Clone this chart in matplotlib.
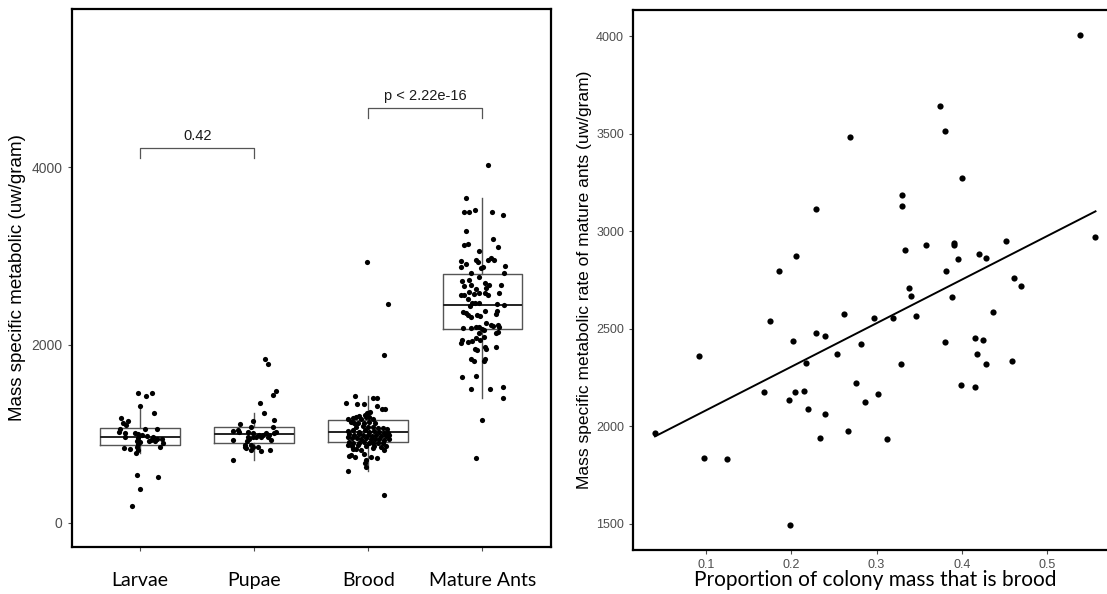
import numpy as np
import matplotlib
matplotlib.use("Agg")
import matplotlib.pyplot as plt

# ---- left panel: jittered points (offset from category centre, value) ----
categories = ["Larvae", "Pupae", "Brood", "Mature Ants"]

larvae_dx = [-0.015, 0.053, 0.102, 0.0, 0.12, -0.167, -0.108, -0.152, -0.126, -0.173,
             -0.184, -0.137, 0.044, 0.146, -0.044, -0.02, 0.015, 0.064, 0.108, -0.132,
             0.146, -0.015, -0.029, 0.0, 0.073, 0.096, 0.126, 0.19, 0.196, -0.015,
             -0.029, 0.175, -0.14, -0.088, -0.038, -0.02, -0.029, 0.152, -0.003, -0.07]
larvae_y = [1463, 1429, 1455, 1309, 1230, 1174, 1140, 1118, 1095, 1058,
            1024, 1013, 1050, 1050, 1005, 998, 987, 975, 968, 968,
            938, 949, 923, 912, 923, 930, 919, 938, 900, 885,
            855, 855, 837, 825, 788, 818, 537, 510, 379, 188]

pupae_dx = [0.097, 0.123, 0.19, 0.164, 0.05, 0.085, -0.014, 0.17, -0.123, -0.032,
            -0.14, 0.161, -0.184, -0.137, -0.058, -0.014, 0.176, 0.19, 0.044, 0.073,
            0.103, 0.126, -0.058, -0.014, 0.015, 0.059, 0.117, -0.19, -0.044, -0.067,
            -0.079, -0.029, -0.014, 0.146, -0.084, -0.073, -0.029, 0.03, 0.059, 0.138,
            -0.184]
pupae_y = [1838, 1785, 1478, 1437, 1343, 1238, 1148, 1155, 1110, 1073,
           1043, 1073, 1028, 1024, 1024, 1013, 1013, 1024, 987, 987,
           1005, 987, 960, 960, 960, 960, 960, 930, 938, 923,
           874, 874, 855, 930, 848, 837, 818, 848, 810, 818,
           705]

brood_dx = [-0.114, 0.044, 0.076, -0.196, -0.102, -0.041, 0.073, 0.120, 0.149, 0.015,
            -0.015, -0.032, -0.079, -0.181, -0.137, -0.108, -0.064, -0.020, 0.009, 0.038,
            -0.152, -0.123, -0.093, -0.035, 0.009, 0.061, -0.108, -0.050, -0.006, 0.038,
            0.082, 0.126, 0.161, -0.175, -0.137, -0.085, -0.026, 0.009, 0.053, 0.097,
            0.140, 0.170, -0.167, -0.123, -0.079, -0.044, -0.006, 0.032, 0.067, 0.111,
            0.155, 0.184, -0.181, -0.143, -0.102, -0.064, -0.020, 0.023, 0.061, 0.097,
            0.140, 0.178, -0.167, -0.132, -0.079, -0.035, 0.009, 0.044, 0.082, 0.126,
            -0.181, -0.143, -0.093, -0.020, 0.053, 0.111, 0.155, -0.137, -0.108, -0.064,
            0.038, 0.140, -0.172, -0.152, -0.114, -0.035, 0.023, 0.076, -0.020, -0.026,
            -0.020, -0.181, 0.140, 0.170, 0.135, -0.009]
brood_y = [1429, 1407, 1399, 1350, 1332, 1335, 1317, 1279, 1279, 1249,
           1230, 1212, 1200, 1163, 1174, 1185, 1163, 1185, 1193, 1163,
           1137, 1118, 1125, 1125, 1137, 1118, 1080, 1088, 1080, 1080,
           1062, 1062, 1050, 1035, 1043, 1024, 1043, 1024, 1035, 1024,
           1013, 1005, 998, 987, 998, 987, 987, 975, 987, 975,
           975, 987, 960, 949, 949, 938, 949, 938, 938, 938,
           930, 938, 912, 900, 900, 912, 893, 900, 893, 900,
           874, 863, 874, 863, 863, 855, 863, 825, 825, 818,
           837, 818, 750, 762, 743, 773, 743, 724, 705, 668,
           630, 585, 312, 2464, 1890, 2929]

mature_dx = [0.047, -0.141, -0.161, -0.114, -0.067, 0.082, 0.178, -0.141, 0.091, -0.161,
             -0.129, 0.137, -0.035, -0.187, -0.146, -0.187, -0.059, -0.041, 0.044, 0.073,
             0.099, -0.012, 0.006, 0.193, -0.100, -0.035, 0.187, -0.176, -0.117, 0.023,
             0.058, -0.161, -0.103, 0.035, 0.158, -0.059,
             -0.190, -0.161, -0.117, -0.030, 0.023, 0.146, 0.044, -0.073, -0.123, -0.088,
             -0.111, -0.065, -0.030, 0.131, 0.190, -0.170, -0.146, -0.123, -0.103, -0.044,
             -0.021, 0.023, 0.131, 0.117, -0.170, -0.100, -0.059, -0.030, 0.0, 0.035,
             0.073, 0.088, 0.140, 0.146, 0.015, -0.035, 0.117, 0.140, 0.015, -0.176,
             -0.123, -0.088, -0.059, -0.024, -0.190, -0.065, -0.044, 0.023, 0.035, 0.117,
             -0.103, -0.073, 0.015, 0.023, -0.182, -0.059, -0.103, 0.067, 0.181, 0.184,
             -0.006, -0.059]
mature_y = [4024, 3657, 3492, 3495, 3522, 3499, 3462, 3285, 3195, 3120,
            3139, 3098, 3057, 2940, 2910, 2880, 2952, 2933, 2952, 2982,
            2955, 2869, 2880, 2892, 2813, 2768, 2806, 2715, 2730, 2700,
            2674, 2663, 2678, 2644, 2678, 2625,
            2558, 2562, 2599, 2580, 2588, 2588, 2558, 2573, 2513, 2475,
            2438, 2468, 2475, 2460, 2449, 2374, 2355, 2337, 2310, 2337,
            2325, 2385, 2385, 2344, 2187, 2194, 2205, 2198, 2175, 2243,
            2224, 2213, 2224, 2198, 2168, 2138, 2138, 2149, 2093, 2055,
            2037, 2048, 2074, 2055, 2018, 1950, 1943, 1973, 1950, 1973,
            1845, 1823, 1823, 1838, 1635, 1650, 1500, 1500, 1530, 1399,
            1159, 732]

# box statistics
box_q1 = [874, 893, 912, 2175]
box_med = [960, 998, 1017, 2453]
box_q3 = [1062, 1073, 1155, 2798]
box_lo = [788, 705, 585, 1407]
box_hi = [1309, 1238, 1429, 3657]

# comparison brackets
bracket_pairs = [(1, 2), (3, 4)]
bracket_y = [4218, 4668]
bracket_labels = ["0.42", "p < 2.22e-16"]

# ---- right panel: colony data ----
brood_prop = [0.539, 0.374, 0.380, 0.269, 0.400, 0.330, 0.330, 0.229, 0.557, 0.452,
              0.358, 0.391, 0.391, 0.333, 0.206, 0.420, 0.428, 0.396, 0.185, 0.381,
              0.461, 0.470, 0.338, 0.340, 0.389, 0.437, 0.346, 0.262, 0.297, 0.319,
              0.175, 0.229, 0.239, 0.202, 0.380, 0.282, 0.415, 0.425, 0.254, 0.418,
              0.092, 0.217, 0.329, 0.428, 0.459, 0.276, 0.399, 0.415, 0.168, 0.204,
              0.215, 0.302, 0.197, 0.286, 0.219, 0.240, 0.267, 0.040, 0.234, 0.312,
              0.097, 0.124, 0.198]
ant_rate = [4010, 3643, 3515, 3486, 3275, 3189, 3132, 3115, 2970, 2949,
            2932, 2940, 2928, 2904, 2872, 2884, 2865, 2860, 2798, 2798,
            2762, 2718, 2709, 2669, 2664, 2589, 2568, 2578, 2556, 2556,
            2543, 2479, 2462, 2438, 2433, 2421, 2453, 2441, 2373, 2373,
            2359, 2325, 2319, 2319, 2337, 2222, 2213, 2201, 2174, 2174,
            2184, 2164, 2136, 2124, 2088, 2064, 1978, 1965, 1942, 1934,
            1836, 1833, 1492]

TICK_GREY = "#4D4D4D"
ARIAL = ["Liberation Sans", "DejaVu Sans"]
CALIBRI = ["Lato", "DejaVu Sans"]

fig = plt.figure(figsize=(11.07, 5.94), dpi=100)

# ---------------- left panel ----------------
ax1 = fig.add_axes([0.0648, 0.0796, 0.4329, 0.9052])

stats = []
for i in range(len(categories)):
    stats.append(dict(med=box_med[i], q1=box_q1[i], q3=box_q3[i],
                      whislo=box_lo[i], whishi=box_hi[i], fliers=[]))
ax1.bxp(stats, positions=[1, 2, 3, 4], widths=0.7, showfliers=False, showcaps=False,
        boxprops=dict(color="#555555", linewidth=1.0),
        whiskerprops=dict(color="#555555", linewidth=1.0),
        medianprops=dict(color="#222222", linewidth=1.4),
        manage_ticks=False)

groups = [(larvae_dx, larvae_y), (pupae_dx, pupae_y), (brood_dx, brood_y), (mature_dx, mature_y)]
for i, (dx, yy) in enumerate(groups):
    ax1.scatter(np.array(dx) + i + 1, yy, s=14, color="black", linewidths=0, zorder=3)

for (a, b), yb, lab in zip(bracket_pairs, bracket_y, bracket_labels):
    drop = 115
    ax1.plot([a, a, b, b], [yb - drop, yb, yb, yb - drop], color="#555555", lw=0.9)
    ax1.text((a + b) / 2, yb + 60, lab, ha="center", va="bottom", fontsize=10.5,
             family=ARIAL, color="#1a1a1a")

ax1.set_xlim(0.4, 4.6)
ax1.set_ylim(-270, 5780)
ax1.set_yticks([0, 2000, 4000])
ax1.set_xticks([1, 2, 3, 4])
ax1.set_xticklabels(categories, family=CALIBRI, fontsize=14, color="black")
ax1.tick_params(axis="x", length=3, color=TICK_GREY, pad=15)
ax1.tick_params(axis="y", length=3, color=TICK_GREY, labelcolor=TICK_GREY, labelsize=10)
for lab in ax1.get_yticklabels():
    lab.set_family(ARIAL)
ax1.set_ylabel("Mass specific metabolic (uw/gram)", family=ARIAL, fontsize=13.5, labelpad=4)
for sp in ax1.spines.values():
    sp.set_linewidth(1.6)
    sp.set_color("black")

# ---------------- right panel ----------------
ax2 = fig.add_axes([0.5718, 0.0741, 0.4377, 0.9091])

ax2.scatter(brood_prop, ant_rate, s=20, color="black", linewidths=0, zorder=3)
slope, intercept = np.polyfit(brood_prop, ant_rate, 1)
xs = np.array([min(brood_prop), max(brood_prop)])
ax2.plot(xs, intercept + slope * xs, color="black", lw=1.4)

xr = max(brood_prop) - min(brood_prop)
yr = max(ant_rate) - min(ant_rate)
ax2.set_xlim(min(brood_prop) - 0.05 * xr, max(brood_prop) + 0.05 * xr)
ax2.set_ylim(min(ant_rate) - 0.05 * yr, max(ant_rate) + 0.05 * yr)
ax2.set_xticks([0.1, 0.2, 0.3, 0.4, 0.5])
ax2.set_xticklabels(["0.1", "0.2", "0.3", "0.4", "0.5"])
ax2.set_yticks([1500, 2000, 2500, 3000, 3500, 4000])
ax2.tick_params(length=3, color=TICK_GREY, labelcolor=TICK_GREY, labelsize=9)
for lab in ax2.get_xticklabels() + ax2.get_yticklabels():
    lab.set_family(ARIAL)
ax2.set_xlabel("Proportion of colony mass that is brood", family=CALIBRI, fontsize=15, labelpad=-1)
ax2.set_ylabel("Mass specific metabolic rate of mature ants (uw/gram)", family=ARIAL,
               fontsize=12.5, labelpad=3)
for sp in ax2.spines.values():
    sp.set_linewidth(1.6)
    sp.set_color("black")

fig.savefig("out.png", dpi=100)
